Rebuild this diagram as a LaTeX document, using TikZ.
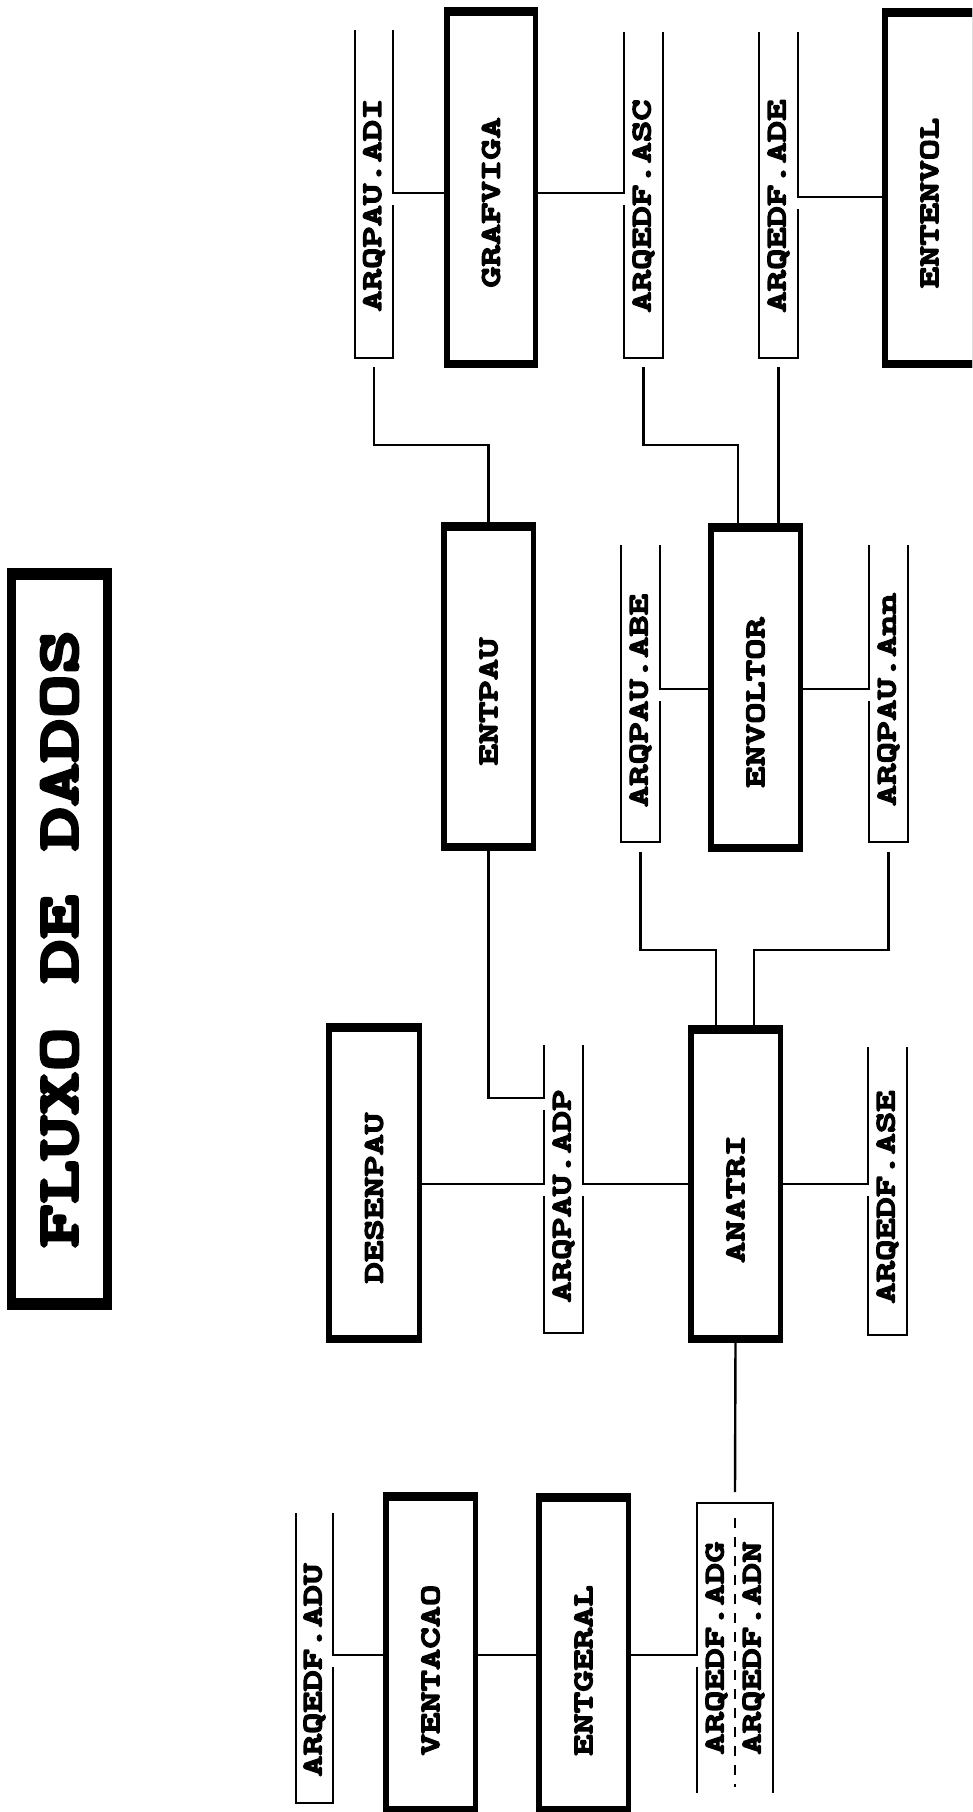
\documentclass[tikz,border=0pt]{standalone}
\usepackage{fontspec}
\newfontfamily\lblfont{lmmonolt10-bold.otf}[FakeStretch=1.45,FakeBold=5.5]
\usetikzlibrary{calc}
\newcommand\procbands[1]{%
  \fill ([xshift=-2.75pt,yshift=2.75pt]#1.north west) rectangle ([xshift=2.75pt,yshift=-5.75pt]#1.north east);
  \fill ([xshift=-2.75pt,yshift=5.75pt]#1.south west) rectangle ([xshift=2.75pt,yshift=-2.75pt]#1.south east);}
\newcommand\sidegap[2]{\fill[white] (#1-2.2,#2+1.2) rectangle (#1+2.2,#2+12);}
\newcommand\storebottom[1]{\draw[fline] (#1.north west) -- (#1.south west) -- (#1.south east) -- (#1.north east);}
\newcommand\storetop[1]{\draw[fline] (#1.south west) -- (#1.north west) -- (#1.north east) -- (#1.south east);}
\begin{document}
\begin{tikzpicture}[x=1pt,y=-1pt,
  proc/.style={draw,line width=5.5pt,fill=white,inner sep=0pt,outer sep=0pt,font=\lblfont\fontsize{28}{37}\selectfont},
  store/.style={inner sep=0pt,outer sep=0pt,font=\lblfont\fontsize{28}{37}\selectfont},
  fline/.style={line width=2.4pt},
  conn/.style={line width=2.4pt}]
\useasboundingbox (0,0) rectangle (972,1812);
\clip (0,0) rectangle (972,1812);
\fill[white] (0,0) rectangle (972,1812);

% title
\node[draw,line width=9pt,inner sep=0pt,outer sep=0pt,minimum width=96pt,minimum height=733pt,font=\lblfont\fontsize{58}{60}\selectfont] (title) at (59.5,939) {\rotatebox{90}{FLUXO DE DADOS}};
\fill ([xshift=-4.5pt,yshift=4.5pt]title.north west) rectangle ([xshift=4.5pt,yshift=-7.5pt]title.north east);
\fill ([xshift=-4.5pt,yshift=7.5pt]title.south west) rectangle ([xshift=4.5pt,yshift=-4.5pt]title.south east);

% row / column coordinates
\coordinate (yA) at (0,193);
\coordinate (yB) at (0,197);
\coordinate (yC) at (0,445);
\coordinate (yD) at (0,689);
\coordinate (yE) at (0,950);
\coordinate (yF) at (0,1098);
\coordinate (yG) at (0,1184);
\coordinate (yI) at (0,1655);
\coordinate (xd) at (738,0);
\coordinate (xg) at (716,0);
\coordinate (xi) at (754,0);

% processes
\node[proc,minimum width=88.5pt,minimum height=355.5pt] (grafviga) at (491,187.5) {\rotatebox{90}{GRAFVIGA\kern30pt}};
\node[proc,minimum width=89.5pt,minimum height=354.5pt] (entenvol) at (929.5,188) {\rotatebox{90}{ENTENVOL\kern30pt}};
\node[proc,minimum width=89.5pt,minimum height=323.5pt] (entpau) at (488.5,686.5) {\rotatebox{90}{ENTPAU\kern30pt}};
\node[proc,minimum width=89.5pt,minimum height=323.5pt] (envoltor) at (755.5,687.5) {\rotatebox{90}{ENVOLTOR\kern30pt}};
\node[proc,minimum width=90.5pt,minimum height=314.5pt] (desenpau) at (374,1183) {\rotatebox{90}{DESENPAU\kern30pt}};
\node[proc,minimum width=89.5pt,minimum height=312.5pt] (anatri) at (735.5,1184) {\rotatebox{90}{ANATRI\kern30pt}};
\node[proc,minimum width=89.5pt,minimum height=316.5pt] (ventacao) at (430.5,1653) {\rotatebox{90}{VENTACAO\kern34pt}};
\node[proc,minimum width=89.5pt,minimum height=315.5pt] (entgeral) at (583.5,1653.5) {\rotatebox{90}{ENTGERAL\kern34pt}};
\procbands{grafviga}\procbands{entenvol}\procbands{entpau}\procbands{envoltor}
\procbands{desenpau}\procbands{anatri}\procbands{ventacao}\procbands{entgeral}

% stores
\node[store,minimum width=38pt,minimum height=328pt] (adi) at (374,194) {\rotatebox{90}{ARQPAU.ADI\kern22pt}};
\node[store,minimum width=39pt,minimum height=326pt] (asc) at (643.5,195) {\rotatebox{90}{ARQEDF.ASC\kern22pt}};
\node[store,minimum width=39pt,minimum height=326pt] (ade) at (778.5,195) {\rotatebox{90}{ARQEDF.ADE\kern22pt}};
\node[store,minimum width=39pt,minimum height=297pt] (abe) at (640.5,693.5) {\rotatebox{90}{ARQPAU.ABE\kern14pt}};
\node[store,minimum width=39pt,minimum height=297pt] (ann) at (888.5,693.5) {\rotatebox{90}{ARQPAU.Ann\kern12pt}};
\node[store,minimum width=39pt,minimum height=288pt] (adp) at (563.5,1189) {\rotatebox{90}{ARQPAU.ADP\kern14pt}};
\node[store,minimum width=39pt,minimum height=288pt] (ase) at (887.5,1191) {\rotatebox{90}{ARQEDF.ASE\kern12pt}};
\node[store,minimum width=37pt,minimum height=290pt] (adu) at (314.5,1658) {\rotatebox{90}{ARQEDF.ADU\kern24pt}};
\node[store,minimum width=76pt,minimum height=290pt] (adg) at (735,1648) {\rotatebox{90}{\vbox{\hbox{ARQEDF.ADG}\hbox{ARQEDF.ADN}}}};

\storebottom{adi}\storebottom{asc}\storebottom{ade}\storebottom{abe}\storebottom{ann}
\storebottom{adp}\storebottom{ase}\storebottom{adu}\storetop{adg}
\draw[fline,dash pattern=on 10pt off 9pt] ($(adg.north)+(0,15)$) -- ($(adg.south)+(0,-6)$);

% connectors
\draw[conn] (adi.east |- yA) -- (grafviga.west |- yA);
\draw[conn] (grafviga.east |- yA) -- (asc.west |- yA);
\draw[conn] (ade.east |- yB) -- (entenvol.west |- yB);
\draw[conn] ($(adi.south)+(0,9)$) |- (entpau.north |- yC) -- (entpau.north);
\draw[conn] ($(asc.south)+(0,9)$) |- (xd |- yC) -- (xd |- envoltor.north);
\draw[conn] ($(ade.south)+(0,9)$) -- (ade.south |- envoltor.north);
\draw[conn] (abe.east |- yD) -- (envoltor.west |- yD);
\draw[conn] (envoltor.east |- yD) -- (ann.west |- yD);
\draw[conn] ($(abe.south)+(0,10)$) |- (xg |- yE) -- (xg |- anatri.north);
\draw[conn] ($(ann.south)+(0,10)$) |- (xi |- yE) -- (xi |- anatri.north);
\draw[conn] (entpau.south) |- (adp.west |- yF);
\draw[conn] (desenpau.east |- yG) -- (adp.west |- yG);
\draw[conn] (adp.east |- yG) -- (anatri.west |- yG);
\draw[conn] (anatri.east |- yG) -- (ase.west |- yG);
\draw[conn] (anatri.south) -- ($(adg.north)+(0,-11)$);
\draw[conn] (adu.east |- yI) -- (ventacao.west |- yI);
\draw[conn] (ventacao.east |- yI) -- (entgeral.west |- yI);
\draw[conn] (entgeral.east |- yI) -- (adg.west |- yI);

% small breaks in store sides below each junction
\sidegap{393}{193}\sidegap{624}{193}\sidegap{798}{197}
\sidegap{660}{689}\sidegap{869}{689}
\sidegap{544}{1098}\sidegap{544}{1184}\sidegap{583}{1184}\sidegap{868}{1184}
\sidegap{333}{1655}\sidegap{697}{1655}
\end{tikzpicture}
\end{document}
